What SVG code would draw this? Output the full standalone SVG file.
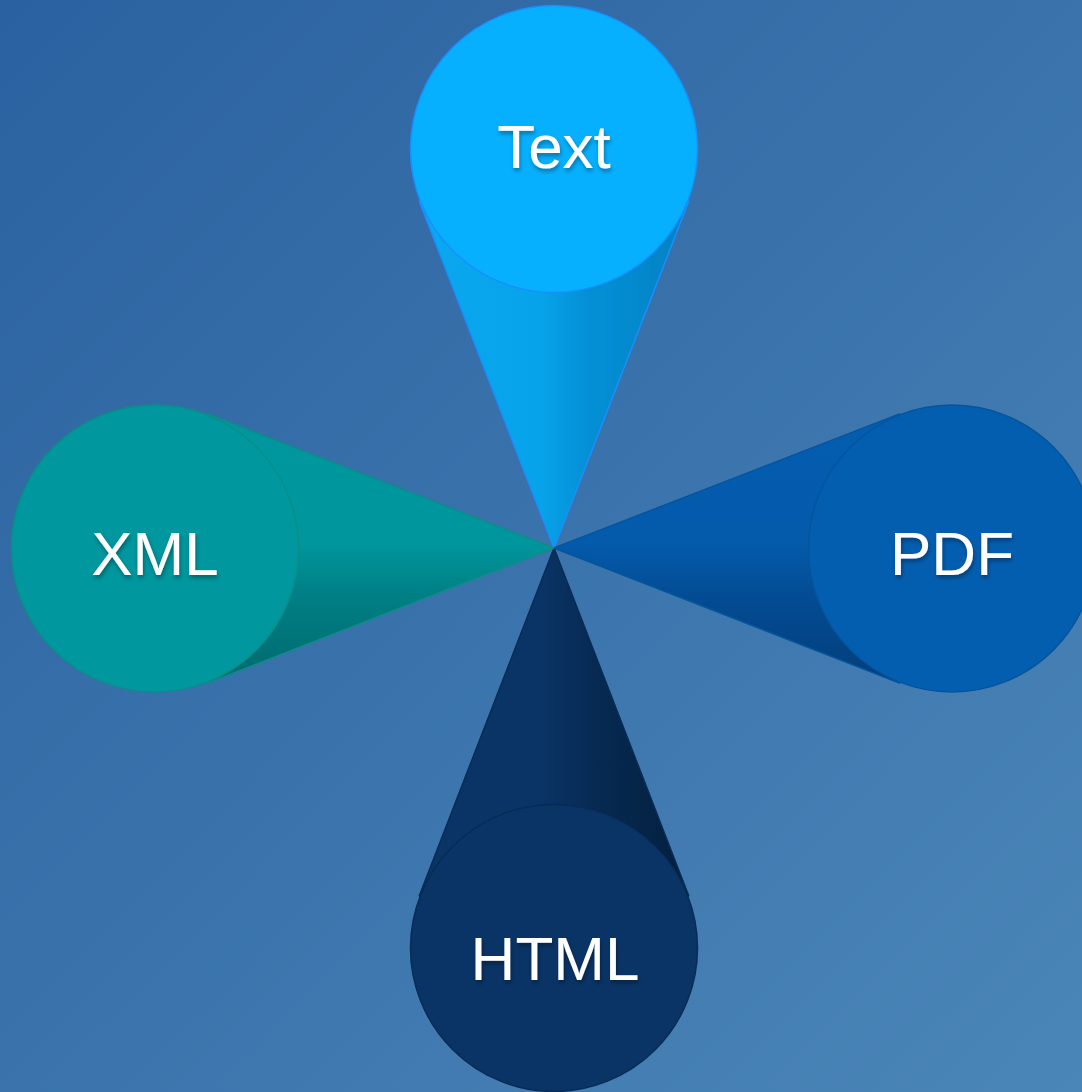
<svg xmlns="http://www.w3.org/2000/svg" width="1082" height="1092" viewBox="0 0 1082 1092">
  <defs>
    <linearGradient id="bg" x1="0" y1="0" x2="1" y2="1">
      <stop offset="0" stop-color="#2a61a0"/>
      <stop offset="1" stop-color="#4b86b8"/>
    </linearGradient>
    <linearGradient id="gText" gradientUnits="userSpaceOnUse" x1="419" y1="0" x2="689" y2="0">
      <stop offset="0" stop-color="#0aa8f0"/>
      <stop offset="0.45" stop-color="#07a3ea"/>
      <stop offset="0.62" stop-color="#0490d6"/>
      <stop offset="1" stop-color="#0381c3"/>
    </linearGradient>
    <linearGradient id="gHtml" gradientUnits="userSpaceOnUse" x1="419" y1="0" x2="689" y2="0">
      <stop offset="0" stop-color="#0a3466"/>
      <stop offset="0.45" stop-color="#0a3466"/>
      <stop offset="0.65" stop-color="#062a52"/>
      <stop offset="1" stop-color="#041f3e"/>
    </linearGradient>
    <linearGradient id="gPdf" gradientUnits="userSpaceOnUse" x1="0" y1="414" x2="0" y2="683">
      <stop offset="0" stop-color="#045db0"/>
      <stop offset="0.48" stop-color="#045aab"/>
      <stop offset="0.68" stop-color="#034c93"/>
      <stop offset="1" stop-color="#033e7c"/>
    </linearGradient>
    <linearGradient id="gXml" gradientUnits="userSpaceOnUse" x1="0" y1="414" x2="0" y2="683">
      <stop offset="0" stop-color="#00979f"/>
      <stop offset="0.48" stop-color="#00969d"/>
      <stop offset="0.68" stop-color="#007f84"/>
      <stop offset="1" stop-color="#00696e"/>
    </linearGradient>
    <filter id="shadow" x="-20%" y="-30%" width="140%" height="170%">
      <feDropShadow dx="1" dy="3" stdDeviation="2" flood-color="#000" flood-opacity="0.35"/>
    </filter>
  </defs>
  <style>
    .label { font-family: "Liberation Sans", Arial, sans-serif; font-size: 62px; fill: #ffffff; text-anchor: middle; filter: url(#shadow); }
    .cone { stroke-width: 1.5; stroke-linejoin: round; }
    .node { stroke-width: 1.5; }
  </style>
  <rect x="0" y="0" width="1082" height="1092" fill="url(#bg)"/>

  <g id="connectors">
    <path class="cone" d="M554,548 L688.7,201.3 L554,149 L419.3,201.3 Z" fill="url(#gText)" stroke="#1790ff"/>
    <path class="cone" d="M554,548 L899.5,413.9 L952,548.5 L899.5,683.1 Z" fill="url(#gPdf)" stroke="#04559c"/>
    <path class="cone" d="M554,548 L419.3,895.8 L554,948 L688.7,895.8 Z" fill="url(#gHtml)" stroke="#072c56"/>
    <path class="cone" d="M554,548 L207.3,413.8 L155,548.5 L207.3,683.2 Z" fill="url(#gXml)" stroke="#0b8e88"/>
  </g>

  <g id="node-text">
    <circle class="node" cx="554" cy="149" r="143.5" fill="#07b0ff" stroke="#1790ff"/>
    <text class="label" x="554" y="168">Text</text>
  </g>
  <g id="node-pdf">
    <circle class="node" cx="952" cy="548.5" r="143.5" fill="#045eb0" stroke="#04559c"/>
    <text class="label" x="952" y="575">PDF</text>
  </g>
  <g id="node-html">
    <circle class="node" cx="554" cy="948" r="143.5" fill="#0a3466" stroke="#072c56"/>
    <text class="label" x="555" y="980">HTML</text>
  </g>
  <g id="node-xml">
    <circle class="node" cx="155" cy="548.5" r="143.5" fill="#00979f" stroke="#0b8e88"/>
    <text class="label" x="155" y="575">XML</text>
  </g>
</svg>
